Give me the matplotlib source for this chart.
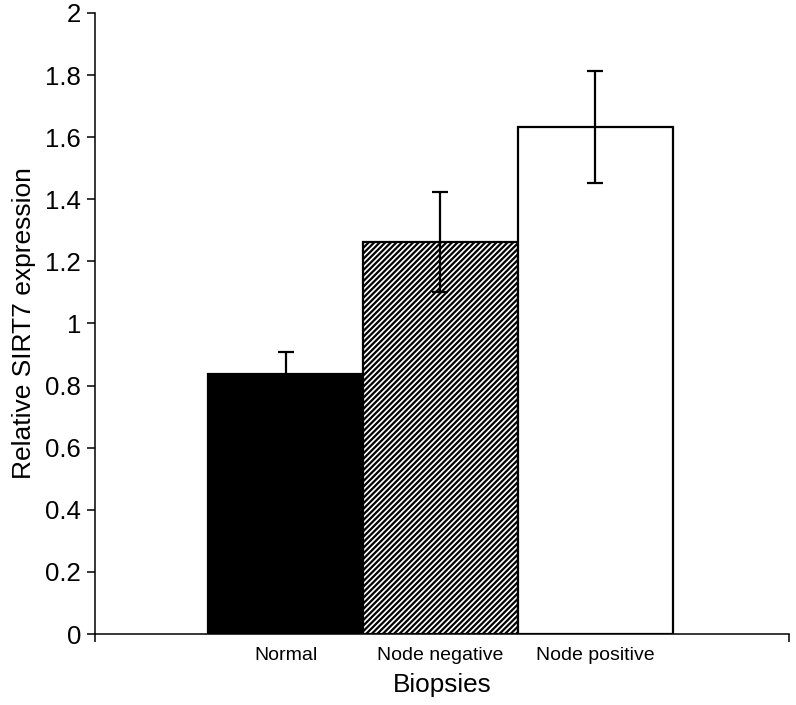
import numpy as np
import matplotlib
matplotlib.use("Agg")
import matplotlib.pyplot as plt

plt.rcParams['font.family'] = ['Liberation Sans', 'DejaVu Sans']
plt.rcParams['hatch.linewidth'] = 1.6

categories = ['Normal', 'Node negative', 'Node positive']
values = [0.837, 1.263, 1.632]
errors = [0.072, 0.160, 0.180]
colors = ['black', 'white', 'white']
hatches = ['', '//////', '']

fig = plt.figure(figsize=(7.96, 7.05), dpi=100)
ax = fig.add_axes([95 / 796, 1 - 634 / 705, (789 - 95) / 796, (634 - 13) / 705])

x = np.arange(len(categories))
bars = ax.bar(x, values, width=1.0, color=colors, edgecolor='black',
              linewidth=1.6, zorder=2)
for b, h in zip(bars, hatches):
    b.set_hatch(h)
ax.errorbar(x, values, yerr=errors, fmt='none', ecolor='black',
            elinewidth=1.6, capsize=5.8, capthick=1.6, zorder=3)

ax.set_xlim(-1.23, 3.25)
ax.set_ylim(0, 2)
ax.set_yticks(np.arange(0, 2.01, 0.2))
ax.set_yticklabels(['0', '0.2', '0.4', '0.6', '0.8', '1', '1.2', '1.4', '1.6', '1.8', '2'])
ax.tick_params(axis='y', labelsize=18.5, length=6, width=1.1, direction='out', pad=4)

ax.set_xticks([-1.23, 3.25])
ax.set_xticklabels(['', ''])
ax.set_xticks(x, minor=True)
ax.set_xticklabels(categories, minor=True)
ax.tick_params(axis='x', which='major', length=6, width=1.1, direction='out')
ax.tick_params(axis='x', which='minor', length=0, labelsize=14, pad=9)

ax.spines['top'].set_visible(False)
ax.spines['right'].set_visible(False)
for s in ['left', 'bottom']:
    ax.spines[s].set_linewidth(1.1)

ax.set_xlabel('Biopsies', fontsize=18.8, labelpad=7)
ax.set_ylabel('Relative SIRT7 expression', fontsize=19, labelpad=7)

fig.savefig('out.png', dpi=100)
